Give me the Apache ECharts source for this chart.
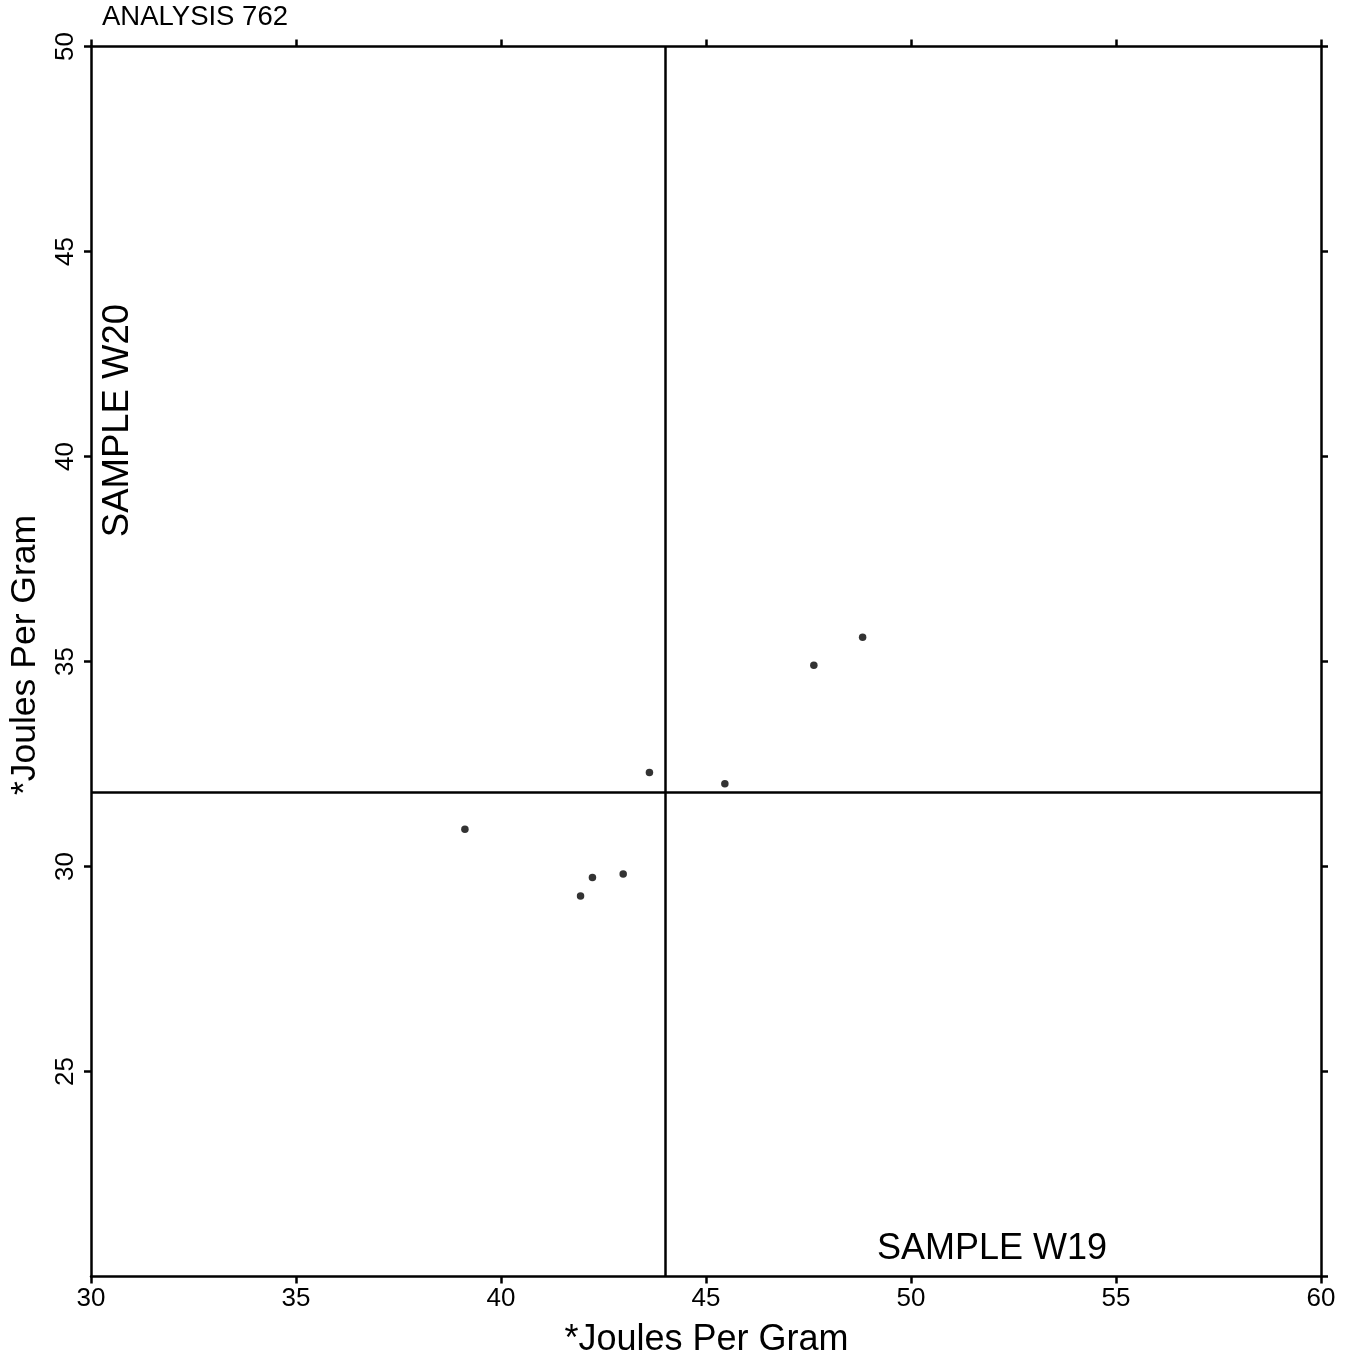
<!DOCTYPE html>
<html><head><meta charset="utf-8">
<script src="https://cdn.jsdelivr.net/npm/echarts@6/dist/echarts.min.js"></script>
<style>html,body{margin:0;padding:0;background:#fff}#c{width:1351px;height:1363px}</style>
</head><body><div id="c"></div>
<script>
const xValues = [39.12, 41.94, 42.23, 42.98, 43.62, 45.46, 47.63, 48.82];
const yValues = [30.91, 29.28, 29.73, 29.82, 32.29, 32.02, 34.91, 35.59];
const xRef = 44.0;
const yRef = 31.81;
const xTicks = [30, 35, 40, 45, 50, 55, 60];
const yTicks = [20, 25, 30, 35, 40, 45, 50];
const titleText = 'ANALYSIS 762';
const xSample = 'SAMPLE W19';
const ySample = 'SAMPLE W20';
const axisName = '*Joules Per Gram';

const points = xValues.map((x, i) => [x, yValues[i]]);
const F = 'Liberation Sans, Arial, sans-serif';
const LW = 2.5;
const axisCommon = {
  type: 'value', splitLine: {show: false},
  axisLine: {show: true, onZero: false, lineStyle: {color: '#000', width: LW}},
  axisTick: {show: true, inside: false, length: 7, lineStyle: {color: '#000', width: LW}}
};
const chart = echarts.init(document.getElementById('c'), null, {renderer: 'canvas'});
chart.setOption({
  backgroundColor: '#fff',
  animation: false,
  grid: {left: 91, right: 30, top: 46.5, bottom: 86.5, containLabel: false},
  xAxis: [
    Object.assign({}, axisCommon, {
      position: 'bottom', min: xTicks[0], max: xTicks[xTicks.length-1], interval: 5,
      axisLabel: {fontFamily: F, fontSize: 26, color: '#000', margin: 9}
    }),
    Object.assign({}, axisCommon, {
      position: 'top', min: xTicks[0], max: xTicks[xTicks.length-1], interval: 5,
      axisLabel: {show: false}
    })
  ],
  yAxis: [
    Object.assign({}, axisCommon, {
      position: 'left', min: yTicks[0], max: yTicks[yTicks.length-1], interval: 5,
      axisLabel: {fontFamily: F, fontSize: 26, color: '#000', rotate: 90, margin: 12,
        showMinLabel: false, formatter: v => (v === yTicks[0] ? '' : String(v))}
    }),
    Object.assign({}, axisCommon, {
      position: 'right', min: yTicks[0], max: yTicks[yTicks.length-1], interval: 5,
      axisLabel: {show: false}
    })
  ],
  series: [{
    type: 'scatter', data: points, symbol: 'circle', symbolSize: 7.5,
    itemStyle: {color: '#000'},
    markLine: {
      silent: true, symbol: ['none', 'none'], label: {show: false},
      lineStyle: {color: '#000', width: LW, type: 'solid'},
      data: [{xAxis: xRef}, {yAxis: yRef}]
    }
  }],
  graphic: [
    {type: 'text', x: 102, y: 17.5, style: {text: titleText, font: '27.5px ' + F, fill: '#000', align: 'left', verticalAlign: 'middle'}},
    {type: 'text', x: 877, y: 1249, style: {text: xSample, font: '36px ' + F, fill: '#000', align: 'left', verticalAlign: 'middle'}},
    {type: 'text', x: 117.5, y: 420.5, rotation: Math.PI/2, style: {text: ySample, font: '36.5px ' + F, fill: '#000', align: 'center', verticalAlign: 'middle'}},
    {type: 'text', x: 706.5, y: 1340.5, style: {text: axisName, font: '36px ' + F, fill: '#000', align: 'center', verticalAlign: 'middle'}},
    {type: 'text', x: 25, y: 655, rotation: Math.PI/2, style: {text: axisName, font: '35.5px ' + F, fill: '#000', align: 'center', verticalAlign: 'middle'}}
  ]
});
</script></body></html>
